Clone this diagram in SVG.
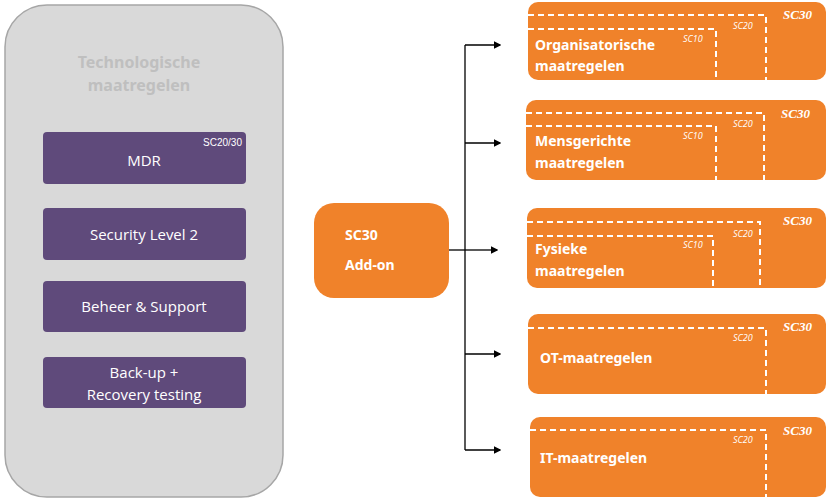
<svg xmlns="http://www.w3.org/2000/svg" width="830" height="501" viewBox="0 0 830 501">
<style>
.p{fill:#5f4a7b}
.pt{fill:#fff;font-family:"Open Sans","Liberation Sans",sans-serif;font-size:15px;text-anchor:middle}
.ps{fill:#fff;font-family:"Liberation Sans",sans-serif;font-size:10px;text-anchor:end}
.o{fill:#f0822a}
.ot{fill:#fff;font-family:"Noto Sans","Liberation Sans",sans-serif;font-weight:bold;font-size:14px}
.d{fill:none;stroke:#fff;stroke-width:2;stroke-dasharray:6,4}
.s3{fill:#fff;font-family:"Liberation Serif",serif;font-style:italic;font-weight:bold;font-size:13px}
.s2{fill:#fff;font-family:"Open Sans","Liberation Sans",sans-serif;font-style:italic;font-size:9px}
.c{stroke:#000;stroke-width:1.3;fill:none}
</style>
<defs><marker id="a" markerWidth="6" markerHeight="6" refX="5" refY="3" orient="auto"><path d="M0,0L6,3L0,6z" fill="#000"/></marker></defs>
<g id="tech">
<rect x="5" y="5" width="278" height="492" rx="42" fill="#d9d9d9" stroke="#a6a6a6" stroke-width="1.5"/>
<text x="139" y="68" text-anchor="middle" font-family="Noto Sans,Liberation Sans,sans-serif" font-weight="bold" font-size="16" fill="#bfbfbf">Technologische</text>
<text x="139" y="91" text-anchor="middle" font-family="Noto Sans,Liberation Sans,sans-serif" font-weight="bold" font-size="16" fill="#bfbfbf">maatregelen</text>
</g>
<g id="mdr"><rect class="p" x="43" y="132" width="203" height="52" rx="4"/><text class="pt" x="144" y="166">MDR</text><text class="ps" x="242" y="146">SC20/30</text></g>
<g id="sl2"><rect class="p" x="43" y="208" width="203" height="52" rx="4"/><text class="pt" x="144" y="240">Security Level 2</text></g>
<g id="beheer"><rect class="p" x="43" y="281" width="203" height="51" rx="4"/><text class="pt" x="144" y="312">Beheer &amp; Support</text></g>
<g id="backup"><rect class="p" x="43" y="357" width="203" height="51" rx="4"/><text class="pt" x="144" y="378">Back-up +</text><text class="pt" x="144" y="400">Recovery testing</text></g>
<g id="addon"><rect class="o" x="314" y="203" width="135" height="95" rx="20"/><text class="ot" x="345" y="240" font-size="17">SC30</text><text class="ot" x="345" y="270" font-size="17">Add-on</text></g>
<g id="connectors">
<line class="c" x1="449" y1="250" x2="465" y2="250"/>
<line class="c" x1="465" y1="45" x2="465" y2="450"/>
<line class="c" x1="465" y1="45" x2="500" y2="45" marker-end="url(#a)"/>
<line class="c" x1="465" y1="143" x2="500" y2="143" marker-end="url(#a)"/>
<line class="c" x1="465" y1="250" x2="497" y2="250" marker-end="url(#a)"/>
<line class="c" x1="465" y1="354" x2="500" y2="354" marker-end="url(#a)"/>
<line class="c" x1="465" y1="450" x2="500" y2="450" marker-end="url(#a)"/>
</g>
<g id="org"><rect class="o" x="528" y="2" width="298" height="78" rx="10"/>
<path class="d" d="M528,15H766V80M528,29H716V80"/>
<text class="s3" x="783" y="19">SC30</text><text class="s2" x="733" y="29">SC20</text><text class="s2" x="683" y="42">SC10</text>
<text class="ot" x="535" y="50">Organisatorische</text><text class="ot" x="535" y="71">maatregelen</text></g>
<g id="mens"><rect class="o" x="526" y="100" width="300" height="80" rx="10"/>
<path class="d" d="M526,113H764V180M526,126H716V180"/>
<text class="s3" x="781" y="118">SC30</text><text class="s2" x="733" y="127">SC20</text><text class="s2" x="683" y="139">SC10</text>
<text class="ot" x="535" y="146">Mensgerichte</text><text class="ot" x="535" y="168">maatregelen</text></g>
<g id="fys"><rect class="o" x="527" y="208" width="299" height="80" rx="10"/>
<path class="d" d="M527,222H760V288M527,236H713V288"/>
<text class="s3" x="783" y="225">SC30</text><text class="s2" x="733" y="237">SC20</text><text class="s2" x="683" y="248">SC10</text>
<text class="ot" x="535" y="254">Fysieke</text><text class="ot" x="535" y="276">maatregelen</text></g>
<g id="ot"><rect class="o" x="528" y="314" width="298" height="80" rx="10"/>
<path class="d" d="M528,328H766V394"/>
<text class="s3" x="783" y="331">SC30</text><text class="s2" x="733" y="341">SC20</text>
<text class="ot" x="540" y="363">OT-maatregelen</text></g>
<g id="it"><rect class="o" x="530" y="417" width="296" height="80" rx="10"/>
<path class="d" d="M530,430H766V497"/>
<text class="s3" x="783" y="435">SC30</text><text class="s2" x="733" y="443">SC20</text>
<text class="ot" x="540" y="463">IT-maatregelen</text></g>
</svg>
